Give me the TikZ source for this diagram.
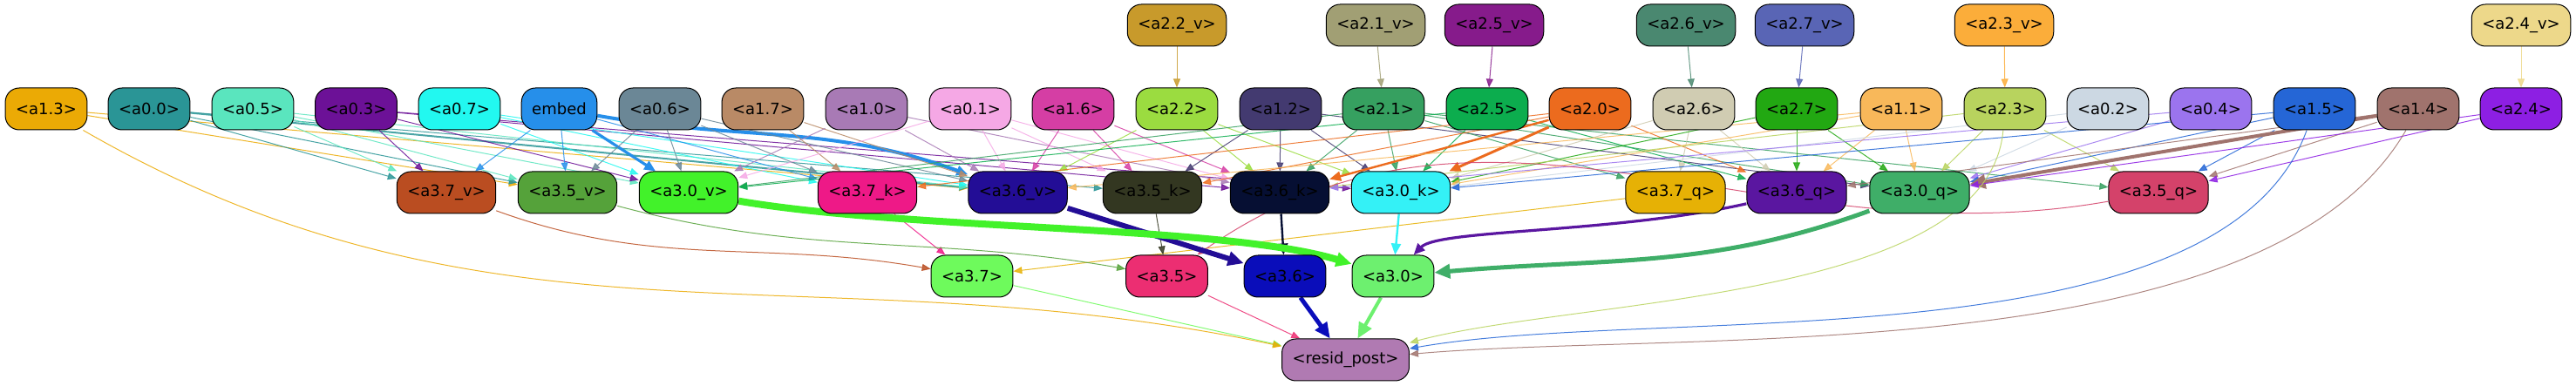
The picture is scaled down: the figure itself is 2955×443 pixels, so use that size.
\documentclass[tikz,border=0pt]{standalone}
\usepackage{fontspec}
\setmainfont{DejaVu Sans}
\usetikzlibrary{arrows.meta,backgrounds}

% node colours
\definecolor{ca13}{HTML}{EBAA05}
\definecolor{ca00}{HTML}{2A9596}
\definecolor{ca05}{HTML}{5AE5BE}
\definecolor{ca03}{HTML}{6C1197}
\definecolor{ca07}{HTML}{22F8F0}
\definecolor{cembed}{HTML}{268FEA}
\definecolor{ca06}{HTML}{6B8796}
\definecolor{ca17}{HTML}{B98A66}
\definecolor{ca10}{HTML}{A87AB5}
\definecolor{ca01}{HTML}{F5A8E5}
\definecolor{ca16}{HTML}{D53EA4}
\definecolor{ca22}{HTML}{9BDC40}
\definecolor{ca22v}{HTML}{C89A2B}
\definecolor{ca12}{HTML}{433A70}
\definecolor{ca21}{HTML}{36A060}
\definecolor{ca21v}{HTML}{A19F74}
\definecolor{ca25}{HTML}{0CAD4E}
\definecolor{ca25v}{HTML}{861B8B}
\definecolor{ca20}{HTML}{EC6B1E}
\definecolor{ca26}{HTML}{D0CCB2}
\definecolor{ca26v}{HTML}{4A8870}
\definecolor{ca27}{HTML}{22A812}
\definecolor{ca27v}{HTML}{5965B5}
\definecolor{ca11}{HTML}{F8B85A}
\definecolor{ca23}{HTML}{B8D35E}
\definecolor{ca23v}{HTML}{FBAD3A}
\definecolor{ca02}{HTML}{CCD8E3}
\definecolor{ca04}{HTML}{9B74EE}
\definecolor{ca15}{HTML}{2566D6}
\definecolor{ca14}{HTML}{A0736D}
\definecolor{ca24}{HTML}{8D1FE3}
\definecolor{ca24v}{HTML}{EDD88A}
\definecolor{ca37v}{HTML}{BA4D21}
\definecolor{ca35v}{HTML}{55A23A}
\definecolor{ca30v}{HTML}{42F22A}
\definecolor{ca37k}{HTML}{EE1987}
\definecolor{ca36v}{HTML}{230D96}
\definecolor{ca35k}{HTML}{333721}
\definecolor{ca36k}{HTML}{060F33}
\definecolor{ca30k}{HTML}{34F1F6}
\definecolor{ca37q}{HTML}{E6B105}
\definecolor{ca36q}{HTML}{5A16A0}
\definecolor{ca30q}{HTML}{3FAE68}
\definecolor{ca35q}{HTML}{D4426A}
\definecolor{ca37}{HTML}{6EFA5C}
\definecolor{ca35}{HTML}{EC2E72}
\definecolor{ca36}{HTML}{0A0DBA}
\definecolor{ca30}{HTML}{6DF06F}
\definecolor{cresid}{HTML}{B07AB2}

\begin{document}
\begin{tikzpicture}[x=0.5pt, y=0.5pt,
  box/.style={draw=black, line width=0.5pt, rounded corners=8pt, minimum height=24pt,
    inner xsep=6pt, font=\fontsize{9}{10}\selectfont, text=black},
  e/.style={-{Triangle[length=5pt,width=4pt]}, line width=0.5pt, opacity=0.85},
  em/.style={-{Triangle[length=6.5pt,width=5.5pt]}, line width=1.2pt},
  eh/.style={-{Triangle[length=9pt,width=8pt]}, line width=3pt}]
\useasboundingbox (0,0) rectangle (2955,443);

% Top row: value inputs
\node[box, fill=ca22v] (a22v) at (1350,414) {<a2.2\_v>};
\node[box, fill=ca21v] (a21v) at (1578,414) {<a2.1\_v>};
\node[box, fill=ca25v] (a25v) at (1714,414) {<a2.5\_v>};
\node[box, fill=ca26v] (a26v) at (1934,414) {<a2.6\_v>};
\node[box, fill=ca27v] (a27v) at (2070,414) {<a2.7\_v>};
\node[box, fill=ca23v] (a23v) at (2299,414) {<a2.3\_v>};
\node[box, fill=ca24v] (a24v) at (2892,414) {<a2.4\_v>};

% Second row
\node[box, fill=ca13] (a13) at (53,318) {<a1.3>};
\node[box, fill=ca00] (a00) at (171,318) {<a0.0>};
\node[box, fill=ca05] (a05) at (290,318) {<a0.5>};
\node[box, fill=ca03] (a03) at (408.5,318) {<a0.3>};
\node[box, fill=ca07] (a07) at (527,318) {<a0.7>};
\node[box, fill=cembed] (embed) at (641.5,318) {embed};
\node[box, fill=ca06] (a06) at (757,318) {<a0.6>};
\node[box, fill=ca17] (a17) at (875,318) {<a1.7>};
\node[box, fill=ca10] (a10) at (994,318) {<a1.0>};
\node[box, fill=ca01] (a01) at (1113,318) {<a0.1>};
\node[box, fill=ca16] (a16) at (1231,318) {<a1.6>};
\node[box, fill=ca22] (a22) at (1350,318) {<a2.2>};
\node[box, fill=ca12] (a12) at (1469,318) {<a1.2>};
\node[box, fill=ca21] (a21) at (1587,318) {<a2.1>};
\node[box, fill=ca25] (a25) at (1706,318) {<a2.5>};
\node[box, fill=ca20] (a20) at (1824,318) {<a2.0>};
\node[box, fill=ca26] (a26) at (1943,318) {<a2.6>};
\node[box, fill=ca27] (a27) at (2061,318) {<a2.7>};
\node[box, fill=ca11] (a11) at (2181,318) {<a1.1>};
\node[box, fill=ca23] (a23) at (2300,318) {<a2.3>};
\node[box, fill=ca02] (a02) at (2418,318) {<a0.2>};
\node[box, fill=ca04] (a04) at (2536,318) {<a0.4>};
\node[box, fill=ca15] (a15) at (2655,318) {<a1.5>};
\node[box, fill=ca14] (a14) at (2774,318) {<a1.4>};
\node[box, fill=ca24] (a24) at (2892,318) {<a2.4>};

% Third row: v, k, q of layer 3
\node[box, fill=ca37v] (a37v) at (512,222) {<a3.7\_v>};
\node[box, fill=ca35v] (a35v) at (651,222) {<a3.5\_v>};
\node[box, fill=ca30v] (a30v) at (790,222) {<a3.0\_v>};
\node[box, fill=ca37k] (a37k) at (995,222) {<a3.7\_k>};
\node[box, fill=ca36v] (a36v) at (1167.5,222) {<a3.6\_v>};
\node[box, fill=ca35k] (a35k) at (1322,222) {<a3.5\_k>};
\node[box, fill=ca36k] (a36k) at (1468,222) {<a3.6\_k>};
\node[box, fill=ca30k] (a30k) at (1607,222) {<a3.0\_k>};
\node[box, fill=ca37q] (a37q) at (1922,222) {<a3.7\_q>};
\node[box, fill=ca36q] (a36q) at (2061,222) {<a3.6\_q>};
\node[box, fill=ca30q] (a30q) at (2202,222) {<a3.0\_q>};
\node[box, fill=ca35q] (a35q) at (2476,222) {<a3.5\_q>};

% Heads and output
\node[box, fill=ca37] (a37) at (1115,126) {<a3.7>};
\node[box, fill=ca35] (a35) at (1338.5,126) {<a3.5>};
\node[box, fill=ca36] (a36) at (1474,126) {<a3.6>};
\node[box, fill=ca30] (a30) at (1598,126) {<a3.0>};
\node[box, fill=cresid] (resid) at (1543.5,30) {<resid\_post>};

\begin{scope}[on background layer]
% top row into second row
\draw[e, ca22v] (a22v) -- (a22);
\draw[e, ca21v] (a21v) -- (a21);
\draw[e, ca25v] (a25v) -- (a25);
\draw[e, ca26v] (a26v) -- (a26);
\draw[e, ca27v] (a27v) -- (a27);
\draw[e, ca23v] (a23v) -- (a23);
\draw[e, ca24v] (a24v) -- (a24);

% second row into v, k, q
\draw[e, ca13] (a13) -- (a35v);
\draw[e, ca13] (a13) -- (a36v);
\draw[e, ca00] (a00) -- (a37v);
\draw[e, ca00] (a00) -- (a35v);
\draw[e, ca00, line width=1pt] (a00) -- (a36v);
\draw[e, ca00] (a00) -- (a35k);
\draw[e, ca05] (a05) -- (a37v);
\draw[e, ca05] (a05) -- (a35v);
\draw[e, ca05] (a05) -- (a30v);
\draw[e, ca05] (a05) -- (a36v);
\draw[e, ca03] (a03) -- (a37v);
\draw[e, ca03] (a03) -- (a30v);
\draw[e, ca03] (a03) -- (a36k);
\draw[e, ca03] (a03) -- (a30k);
\draw[e, ca07] (a07) -- (a30v);
\draw[e, ca07] (a07) -- (a37k);
\draw[e, ca07] (a07) -- (a36v);
\draw[e, cembed] (embed) -- (a37v);
\draw[e, cembed] (embed) -- (a35v);
\draw[em, cembed, line width=1.6pt] (embed) -- (a30v);
\draw[e, cembed] (embed) -- (a37k);
\draw[em, cembed, line width=2pt] (embed) to[out=-10, in=160] (a36v);
\draw[e, ca06] (a06) -- (a35v);
\draw[e, ca06] (a06) -- (a30v);
\draw[e, ca06] (a06) -- (a37k);
\draw[e, ca06] (a06) -- (a36v);
\draw[e, ca17] (a17) -- (a37k);
\draw[e, ca17] (a17) -- (a36v);
\draw[e, ca10] (a10) -- (a30v);
\draw[e, ca10] (a10) -- (a36v);
\draw[e, ca10] (a10) -- (a36k);
\draw[e, ca01] (a01) -- (a30v);
\draw[e, ca01] (a01) -- (a36v);
\draw[e, ca01] (a01) -- (a35k);
\draw[e, ca01] (a01) -- (a36k);
\draw[e, ca16] (a16) -- (a36v);
\draw[e, ca16] (a16) -- (a35k);
\draw[e, ca16] (a16) -- (a36k);
\draw[e, ca22] (a22) -- (a36v);
\draw[e, ca22] (a22) -- (a36k);
\draw[e, ca22] (a22) -- (a30k);
\draw[e, ca12] (a12) -- (a35k);
\draw[e, ca12] (a12) -- (a36k);
\draw[e, ca12] (a12) -- (a30k);
\draw[e, ca12] (a12) -- (a30q);
\draw[e, ca21] (a21) -- (a30v);
\draw[e, ca21] (a21) -- (a36k);
\draw[e, ca21] (a21) -- (a30k);
\draw[e, ca21] (a21) -- (a37q);
\draw[e, ca21] (a21) -- (a30q);
\draw[e, ca21] (a21) -- (a35q);
\draw[e, ca25] (a25) -- (a30v);
\draw[e, ca25] (a25) -- (a30k);
\draw[e, ca25] (a25) -- (a36q);
\draw[e, ca20] (a20) -- (a37k);
\draw[e, ca20] (a20) -- (a35k);
\draw[em, ca20] (a20) -- (a36k);
\draw[em, ca20, line width=1.5pt] (a20) -- (a30k);
\draw[e, ca20] (a20) -- (a36q);
\draw[e, ca26] (a26) -- (a30k);
\draw[e, ca26] (a26) -- (a37q);
\draw[e, ca26] (a26) -- (a36q);
\draw[e, ca27] (a27) -- (a30k);
\draw[e, ca27] (a27) -- (a36q);
\draw[e, ca27] (a27) -- (a30q);
\draw[e, ca11] (a11) -- (a36v);
\draw[e, ca11] (a11) -- (a30k);
\draw[e, ca11] (a11) -- (a36q);
\draw[e, ca11] (a11) -- (a30q);
\draw[e, ca23] (a23) -- (a36k);
\draw[e, ca23] (a23) -- (a30q);
\draw[e, ca23] (a23) -- (a35q);
\draw[e, ca02] (a02) -- (a30k);
\draw[e, ca02] (a02) -- (a30q);
\draw[e, ca04] (a04) -- (a36k);
\draw[e, ca04] (a04) -- (a30q);
\draw[e, ca15] (a15) -- (a30k);
\draw[e, ca15] (a15) -- (a30q);
\draw[e, ca15] (a15) -- (a35q);
\draw[e, ca14] (a14) -- (a36q);
\draw[eh, ca14, line width=2pt] (a14) -- (a30q);
\draw[e, ca14] (a14) -- (a35q);
\draw[e, ca24] (a24) -- (a30q);
\draw[e, ca24] (a24) -- (a35q);

% v, k, q into heads
\draw[e, ca37v] (a37v) to[out=-20, in=170] (a37);
\draw[e, ca37k] (a37k) -- (a37);
\draw[e, ca37q] (a37q) -- (a37);
\draw[e, ca35v] (a35v) to[out=-15, in=170] (a35);
\draw[e, ca35k] (a35k) -- (a35);
\draw[e, ca35q] (a35q) to[out=190, in=35] (a35);
\draw[eh, ca36v] (a36v) -- (a36);
\draw[em, ca36k] (a36k) -- (a36);
\draw[eh, ca30v, line width=4pt] (a30v) .. controls (1050,178) and (1400,185) .. (a30);
\draw[em, ca30k] (a30k) -- (a30);
\draw[em, ca36q, line width=1.6pt] (a36q) .. controls (1850,175) and (1650,180) .. (a30);
\draw[eh, ca30q, line width=2.5pt] (a30q) to[out=200, in=5] (a30);

% heads and long edges into the output
\draw[e, ca37] (a37) -- (resid);
\draw[e, ca35] (a35) -- (resid);
\draw[eh, ca36, line width=2.5pt] (a36) -- (resid);
\draw[eh, ca30, line width=2pt] (a30) -- (resid);
\draw[e, ca13] (a13) to[out=-30, in=168] (resid);
\draw[e, ca23] (a23) to[out=-95, in=15, looseness=0.7] (resid);
\draw[e, ca15] (a15) to[out=-110, in=10, looseness=0.7] (resid);
\draw[e, ca14] (a14) to[out=-120, in=5, looseness=0.7] (resid);
\end{scope}
\end{tikzpicture}
\end{document}
